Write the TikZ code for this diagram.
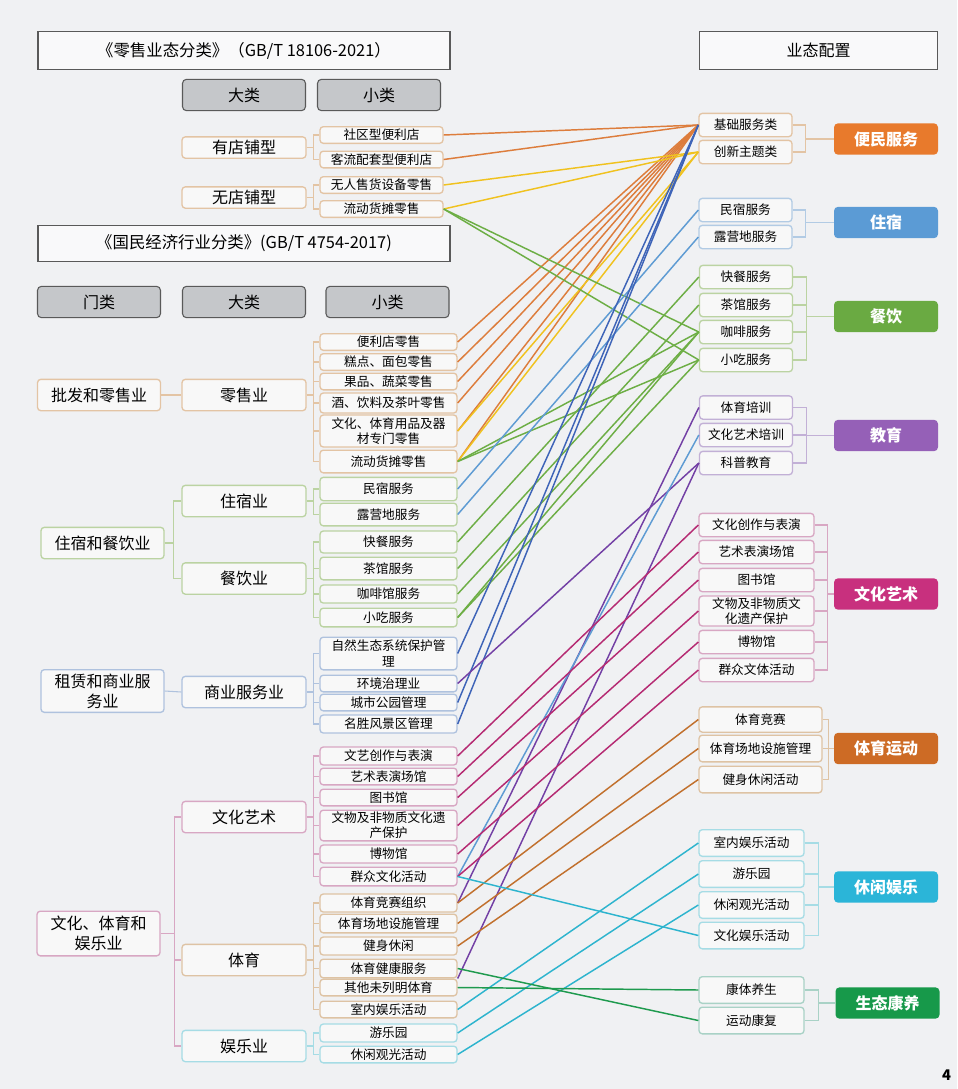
\documentclass[tikz,border=0pt]{standalone}
\usepackage{fontspec}
\setmainfont{Noto Sans CJK SC}
\usepackage{xcolor}
\definecolor{bg}{HTML}{F0F1F3}
\definecolor{boxfill}{HTML}{F8F8F8}
\definecolor{headgray}{HTML}{C5C7CA}
\definecolor{tanB}{HTML}{E3C4A4}
\definecolor{grnB}{HTML}{BBD3A2}
\definecolor{bluB}{HTML}{AFC2DE}
\definecolor{pnkB}{HTML}{D8A7C3}
\definecolor{brnB}{HTML}{DEC3A4}
\definecolor{cyaB}{HTML}{A6DCE5}
\definecolor{purB}{HTML}{C2B0D6}
\definecolor{tealB}{HTML}{A9D2C6}
\definecolor{rbluB}{HTML}{B2CBE4}
\definecolor{lOra}{HTML}{DD7D3C}
\definecolor{lYel}{HTML}{F0C21F}
\definecolor{lBlu}{HTML}{5E9BD3}
\definecolor{lDbl}{HTML}{3E64B8}
\definecolor{lGrn}{HTML}{6DAE45}
\definecolor{lPur}{HTML}{7340A5}
\definecolor{lMag}{HTML}{B52A72}
\definecolor{lBrn}{HTML}{C1702D}
\definecolor{lCya}{HTML}{2DB4CE}
\definecolor{lDgr}{HTML}{1E9A4E}
\definecolor{cOra}{HTML}{E87A2C}
\definecolor{cBlu}{HTML}{5B9BD5}
\definecolor{cGrn}{HTML}{6AAA42}
\definecolor{cPur}{HTML}{9560B7}
\definecolor{cMag}{HTML}{C8307E}
\definecolor{cBrn}{HTML}{CD6B25}
\definecolor{cCya}{HTML}{2BB5D8}
\definecolor{cDgr}{HTML}{17994A}
\usetikzlibrary{positioning}

\begin{document}
\begin{tikzpicture}[x=0.75pt,y=0.75pt,yscale=-1,
  box/.style={draw, rounded corners=2.5pt, line width=1pt, fill=boxfill, inner sep=1pt, align=center},
  leaf/.style={box, minimum width=102.75pt, minimum height=12.5pt, font=\fontsize{9.5}{11.5}\selectfont},
  leafT/.style={leaf, draw=tanB, minimum width=92.25pt},
  mid/.style={box, minimum width=93pt, minimum height=23.5pt, font=\fontsize{12}{15}\selectfont},
  gate/.style={mid, minimum width=92.25pt},
  head/.style={draw=black!65, fill=headgray, rounded corners=3pt, line width=0.8pt, minimum width=92.25pt, minimum height=23.5pt, font=\fontsize{12}{14}\selectfont},
  titlebox/.style={draw=black!65, fill=white!60!bg, line width=0.8pt, minimum height=29pt, font=\fontsize{12.3}{14}\selectfont},
  rleaf/.style={box, minimum width=69.75pt, minimum height=17.5pt, font=\fontsize{9.5}{11.5}\selectfont},
  cat/.style={rounded corners=3pt, minimum width=78pt, minimum height=23.5pt, text=white, font=\bfseries\fontsize{12}{14}\selectfont},
  tr/.style={line width=0.8pt},
  ln/.style={line width=1.1pt}]
\useasboundingbox (0,0) rectangle (957,1089);
\fill[bg] (0,0) rectangle (957,1089);

% titles and headers
\node[titlebox, minimum width=309pt] (tRetail) at (244,50.5) {《零售业态分类》（GB/T 18106-2021）};
\node[titlebox, minimum width=309pt, minimum height=27pt] (tIndus) at (244,243.5) {《国民经济行业分类》(GB/T 4754-2017)};
\node[titlebox, minimum width=179pt, font=\fontsize{12}{14}\selectfont] (tConf) at (818.5,50.5) {业态配置};
\node[head] (hBig1) at (244,95) {大类};
\node[head] (hSmall1) at (379,95) {小类};
\node[head] (hGate) at (99,302) {门类};
\node[head] (hBig2) at (244,302) {大类};
\node[head] (hSmall2) at (387.5,302) {小类};

% retail formats
\node[mid, draw=tanB, minimum height=16pt] (shop) at (244,147.5) {有店铺型};
\node[mid, draw=tanB, minimum height=16pt] (noshop) at (244,197.5) {无店铺型};
\node[leafT] (sq) at (381.5,135) {社区型便利店};
\node[leafT] (kl) at (381.5,159.5) {客流配套型便利店};
\node[leafT] (wr) at (381.5,185) {无人售货设备零售};
\node[leafT] (ld1) at (381.5,209) {流动货摊零售};

% industry classes
\node[gate, draw=tanB] (gPf) at (99,395) {批发和零售业};
\node[gate, draw=grnB] (gZc) at (102.5,543) {住宿和餐饮业};
\node[gate, draw=bluB, minimum height=32pt] (gZl) at (102.5,691) {租赁和商业服\\务业};
\node[gate, draw=pnkB, minimum height=33.5pt] (gWt) at (98.5,933.5) {文化、体育和\\娱乐业};
\node[mid, draw=tanB] (mLs) at (244,395) {零售业};
\node[mid, draw=grnB] (mZs) at (244,501) {住宿业};
\node[mid, draw=grnB] (mCy) at (244,578.5) {餐饮业};
\node[mid, draw=bluB] (mSy) at (244,692) {商业服务业};
\node[mid, draw=pnkB] (mWy) at (244,817) {文化艺术};
\node[mid, draw=brnB] (mTy) at (244,960) {体育};
\node[mid, draw=cyaB] (mYl) at (244,1046) {娱乐业};

\node[leaf, draw=tanB] (a1) at (388.5,342) {便利店零售};
\node[leaf, draw=tanB] (a2) at (388.5,362) {糕点、面包零售};
\node[leaf, draw=tanB] (a3) at (388.5,381.5) {果品、蔬菜零售};
\node[leaf, draw=tanB, minimum height=15pt] (a4) at (388.5,403) {酒、饮料及茶叶零售};
\node[leaf, draw=tanB, minimum height=24pt] (a5) at (388.5,431) {文化、体育用品及器\\材专门零售};
\node[leaf, draw=tanB, minimum height=17pt] (a6) at (388.5,461.5) {流动货摊零售};
\node[leaf, draw=grnB, minimum height=17.5pt] (b1) at (388.5,489) {民宿服务};
\node[leaf, draw=grnB, minimum height=17pt] (b2) at (388.5,514.5) {露营地服务};
\node[leaf, draw=grnB, minimum height=16.5pt] (b3) at (388.5,542) {快餐服务};
\node[leaf, draw=grnB, minimum height=17pt] (b4) at (388.5,568.5) {茶馆服务};
\node[leaf, draw=grnB, minimum height=13.5pt] (b5) at (388.5,594) {咖啡馆服务};
\node[leaf, draw=grnB, minimum height=14pt] (b6) at (388.5,617.5) {小吃服务};
\node[leaf, draw=bluB, minimum height=24.5pt] (c1) at (388.5,653.5) {自然生态系统保护管\\理};
\node[leaf, draw=bluB] (c2) at (388.5,683.5) {环境治理业};
\node[leaf, draw=bluB] (c3) at (388.5,702.5) {城市公园管理};
\node[leaf, draw=bluB, minimum height=13.5pt] (c4) at (388.5,724) {名胜风景区管理};
\node[leaf, draw=pnkB, minimum height=13.5pt] (d1) at (388.5,756) {文艺创作与表演};
\node[leaf, draw=pnkB] (d2) at (388.5,776.5) {艺术表演场馆};
\node[leaf, draw=pnkB] (d3) at (388.5,797.5) {图书馆};
\node[leaf, draw=pnkB, minimum height=23pt] (d4) at (388.5,825.5) {文物及非物质文化遗\\产保护};
\node[leaf, draw=pnkB, minimum height=13.5pt] (d5) at (388.5,854) {博物馆};
\node[leaf, draw=pnkB, minimum height=14pt] (d6) at (388.5,876.5) {群众文化活动};
\node[leaf, draw=brnB, minimum height=13.5pt] (e1) at (388.5,903) {体育竞赛组织};
\node[leaf, draw=brnB, minimum height=14pt] (e2) at (388.5,923.5) {体育场地设施管理};
\node[leaf, draw=brnB, minimum height=13.5pt] (e3) at (388.5,946) {健身休闲};
\node[leaf, draw=brnB, minimum height=14pt] (e4) at (388.5,968.5) {体育健康服务};
\node[leaf, draw=brnB] (e5) at (388.5,987.5) {其他未列明体育};
\node[leaf, draw=brnB] (e6) at (388.5,1009.5) {室内娱乐活动};
\node[leaf, draw=cyaB, minimum height=13.5pt] (f1) at (388.5,1033) {游乐园};
\node[leaf, draw=cyaB] (f2) at (388.5,1054.5) {休闲观光活动};

% configuration
\node[rleaf, draw=tanB] (r1) at (745.5,125) {基础服务类};
\node[rleaf, draw=tanB] (r2) at (745.5,152) {创新主题类};
\node[rleaf, draw=rbluB] (r3) at (745.5,210) {民宿服务};
\node[rleaf, draw=rbluB] (r4) at (745.5,237) {露营地服务};
\node[rleaf, draw=grnB] (r5) at (746,277) {快餐服务};
\node[rleaf, draw=grnB] (r6) at (746,305) {茶馆服务};
\node[rleaf, draw=grnB] (r7) at (746,332) {咖啡服务};
\node[rleaf, draw=grnB] (r8) at (746,360) {小吃服务};
\node[rleaf, draw=purB] (r9) at (746,407.5) {体育培训};
\node[rleaf, draw=purB] (r10) at (746,435) {文化艺术培训};
\node[rleaf, draw=purB] (r11) at (746,463) {科普教育};
\node[rleaf, draw=pnkB, minimum width=86.25pt] (r12) at (756.5,525) {文化创作与表演};
\node[rleaf, draw=pnkB, minimum width=86.25pt] (r13) at (756.5,552) {艺术表演场馆};
\node[rleaf, draw=pnkB, minimum width=86.25pt] (r14) at (756.5,580) {图书馆};
\node[rleaf, draw=pnkB, minimum width=86.25pt, minimum height=22.5pt] (r15) at (756.5,611) {文物及非物质文\\化遗产保护};
\node[rleaf, draw=pnkB, minimum width=86.25pt] (r16) at (756.5,642) {博物馆};
\node[rleaf, draw=pnkB, minimum width=86.25pt] (r17) at (756.5,670) {群众文体活动};
\node[rleaf, draw=brnB, minimum width=92.25pt, minimum height=19pt] (r18) at (760.5,719.5) {体育竞赛};
\node[rleaf, draw=brnB, minimum width=92.25pt, minimum height=20pt] (r19) at (760.5,748.5) {体育场地设施管理};
\node[rleaf, draw=brnB, minimum width=92.25pt, minimum height=20pt] (r20) at (760.5,779.5) {健身休闲活动};
\node[rleaf, draw=cyaB, minimum width=78.75pt, minimum height=20pt] (r21) at (751.5,843) {室内娱乐活动};
\node[rleaf, draw=cyaB, minimum width=78.75pt, minimum height=20pt] (r22) at (751.5,874) {游乐园};
\node[rleaf, draw=cyaB, minimum width=78.75pt, minimum height=20pt] (r23) at (751.5,905) {休闲观光活动};
\node[rleaf, draw=cyaB, minimum width=78.75pt, minimum height=20pt] (r24) at (751.5,935.5) {文化娱乐活动};
\node[rleaf, draw=tealB, minimum width=78.75pt, minimum height=20pt] (r25) at (751.5,990) {康体养生};
\node[rleaf, draw=tealB, minimum width=78.75pt, minimum height=20pt] (r26) at (751.5,1020.5) {运动康复};

\node[cat, fill=cOra] (kBm) at (886,139) {便民服务};
\node[cat, fill=cBlu] (kZs) at (886,222.5) {住宿};
\node[cat, fill=cGrn] (kCy) at (886,316.5) {餐饮};
\node[cat, fill=cPur] (kJy) at (886,435.5) {教育};
\node[cat, fill=cMag] (kWy) at (886,594) {文化艺术};
\node[cat, fill=cBrn] (kTy) at (886,748.5) {体育运动};
\node[cat, fill=cCya] (kXx) at (886,887) {休闲娱乐};
\node[cat, fill=cDgr] (kSt) at (887.5,1003) {生态康养};

\node[font=\bfseries\fontsize{11}{12}\selectfont] (pg) at (946.5,1075) {4};

% tree lines, left
\draw[tr, tanB] (shop.east) -- ++(7,0) |- (sq.west) (shop.east) ++(7,0) |- (kl.west);
\draw[tr, tanB] (noshop.east) -- ++(7,0) |- (wr.west) (noshop.east) ++(7,0) |- (ld1.west);
\draw[tr, tanB] (gPf.east) -- (mLs.west);
\draw[tr, tanB] (mLs.east) -- ++(7,0) |- (a1.west) (mLs.east) ++(7,0) |- (a2.west) (mLs.east) ++(7,0) |- (a3.west)
  (mLs.east) ++(7,0) |- (a4.west) (mLs.east) ++(7,0) |- (a5.west) (mLs.east) ++(7,0) |- (a6.west);
\draw[tr, grnB] (gZc.east) -- ++(9,0) |- (mZs.west) (gZc.east) ++(9,0) |- (mCy.west);
\draw[tr, grnB] (mZs.east) -- ++(7,0) |- (b1.west) (mZs.east) ++(7,0) |- (b2.west);
\draw[tr, grnB] (mCy.east) -- ++(7,0) |- (b3.west) (mCy.east) ++(7,0) |- (b4.west) (mCy.east) ++(7,0) |- (b5.west) (mCy.east) ++(7,0) |- (b6.west);
\draw[tr, bluB] (gZl.east) -- (mSy.west);
\draw[tr, bluB] (mSy.east) -- ++(7,0) |- (c1.west) (mSy.east) ++(7,0) |- (c2.west) (mSy.east) ++(7,0) |- (c3.west) (mSy.east) ++(7,0) |- (c4.west);
\draw[tr, pnkB] (gWt.east) -- ++(14,0) |- (mWy.west) (gWt.east) ++(14,0) |- (mTy.west) (gWt.east) ++(14,0) |- (mYl.west);
\draw[tr, pnkB] (mWy.east) -- ++(7,0) |- (d1.west) (mWy.east) ++(7,0) |- (d2.west) (mWy.east) ++(7,0) |- (d3.west)
  (mWy.east) ++(7,0) |- (d4.west) (mWy.east) ++(7,0) |- (d5.west) (mWy.east) ++(7,0) |- (d6.west);
\draw[tr, brnB] (mTy.east) -- ++(7,0) |- (e1.west) (mTy.east) ++(7,0) |- (e2.west) (mTy.east) ++(7,0) |- (e3.west)
  (mTy.east) ++(7,0) |- (e4.west) (mTy.east) ++(7,0) |- (e5.west) (mTy.east) ++(7,0) |- (e6.west);
\draw[tr, cyaB] (mYl.east) -- ++(7,0) |- (f1.west) (mYl.east) ++(7,0) |- (f2.west);

% tree lines, right
\draw[tr, tanB] (r1.east) -- ++(13,0) |- (kBm.west) (r2.east) -- ++(13,0) |- (kBm.west);
\draw[tr, rbluB] (r3.east) -- ++(13,0) |- (kZs.west) (r4.east) -- ++(13,0) |- (kZs.west);
\draw[tr, grnB] (r5.east) -- ++(13,0) |- (kCy.west) (r8.east) -- ++(13,0) |- (kCy.west) (r6.east) -- ++(13,0) (r7.east) -- ++(13,0);
\draw[tr, purB] (r9.east) -- ++(13,0) |- (kJy.west) (r11.east) -- ++(13,0) |- (kJy.west) (r10.east) -- ++(13,0);
\draw[tr, pnkB] (r12.east) -- ++(13,0) |- (kWy.west) (r17.east) -- ++(13,0) |- (kWy.west)
  (r13.east) -- ++(13,0) (r14.east) -- ++(13,0) (r15.east) -- ++(13,0) (r16.east) -- ++(13,0);
\draw[tr, brnB] (r18.east) -- ++(6,0) |- (kTy.west) (r20.east) -- ++(6,0) |- (kTy.west) (r19.east) -- ++(6,0);
\draw[tr, cyaB] (r21.east) -- ++(14,0) |- (kXx.west) (r24.east) -- ++(14,0) |- (kXx.west) (r22.east) -- ++(14,0) (r23.east) -- ++(14,0);
\draw[tr, tealB] (r25.east) -- ++(14,0) |- (kSt.west) (r26.east) -- ++(14,0) |- (kSt.west);

% links
\draw[ln, lOra] (sq.east) -- (r1.west);
\draw[ln, lOra] (kl.east) -- (r1.west);
\draw[ln, lOra] (a1.east) -- (r1.west);
\draw[ln, lOra] (a2.east) -- (r1.west);
\draw[ln, lOra] (a3.east) -- (r1.west);
\draw[ln, lOra] (a4.east) -- (r1.west);
\draw[ln, lOra] (a5.east) -- (r1.west);
\draw[ln, lOra] (a6.east) -- (r1.west);
\draw[ln, lYel] (wr.east) -- (r2.west);
\draw[ln, lYel] (ld1.east) -- (r2.west);
\draw[ln, lYel] (a5.east) -- (r2.west);
\draw[ln, lYel] (a6.east) -- (r2.west);
\draw[ln, lGrn] (ld1.east) -- (r7.west);
\draw[ln, lGrn] (ld1.east) -- (r8.west);
\draw[ln, lGrn] (a6.east) -- (r7.west);
\draw[ln, lGrn] (a6.east) -- (r8.west);
\draw[ln, lGrn] (b3.east) -- (r5.west);
\draw[ln, lGrn] (b4.east) -- (r6.west);
\draw[ln, lGrn] (b5.east) -- (r7.west);
\draw[ln, lGrn] (b6.east) -- (r7.west);
\draw[ln, lGrn] (b6.east) -- (r8.west);
\draw[ln, lBlu] (b1.east) -- (r3.west);
\draw[ln, lBlu] (b2.east) -- (r4.west);
\draw[ln, lDbl] (c1.east) -- (r1.west);
\draw[ln, lDbl] (c3.east) -- (r1.west);
\draw[ln, lDbl] (c4.east) -- (r1.west);
\draw[ln, lPur] (c2.east) -- (r11.west);
\draw[ln, lPur] (e1.east) -- (r9.west);
\draw[ln, lPur] (e5.north east) -- (r11.west);
\draw[ln, lBlu] (d6.east) -- (r10.west);
\draw[ln, lMag] (d1.east) -- (r12.west);
\draw[ln, lMag] (d2.east) -- (r13.west);
\draw[ln, lMag] (d3.east) -- (r14.west);
\draw[ln, lMag] (d4.east) -- (r15.west);
\draw[ln, lMag] (d5.east) -- (r16.west);
\draw[ln, lMag] (d6.east) -- (r17.west);
\draw[ln, lBrn] (e1.east) -- (r18.west);
\draw[ln, lBrn] (e2.east) -- (r19.west);
\draw[ln, lBrn] (e3.east) -- (r20.west);
\draw[ln, lCya] (e6.east) -- (r21.west);
\draw[ln, lCya] (f1.east) -- (r22.west);
\draw[ln, lCya] (f2.east) -- (r23.west);
\draw[ln, lCya] (d6.east) -- (r24.west);
\draw[ln, lDgr] (e4.east) -- (r26.west);
\draw[ln, lDgr] (e5.east) -- (r25.west);
\end{tikzpicture}
\end{document}
